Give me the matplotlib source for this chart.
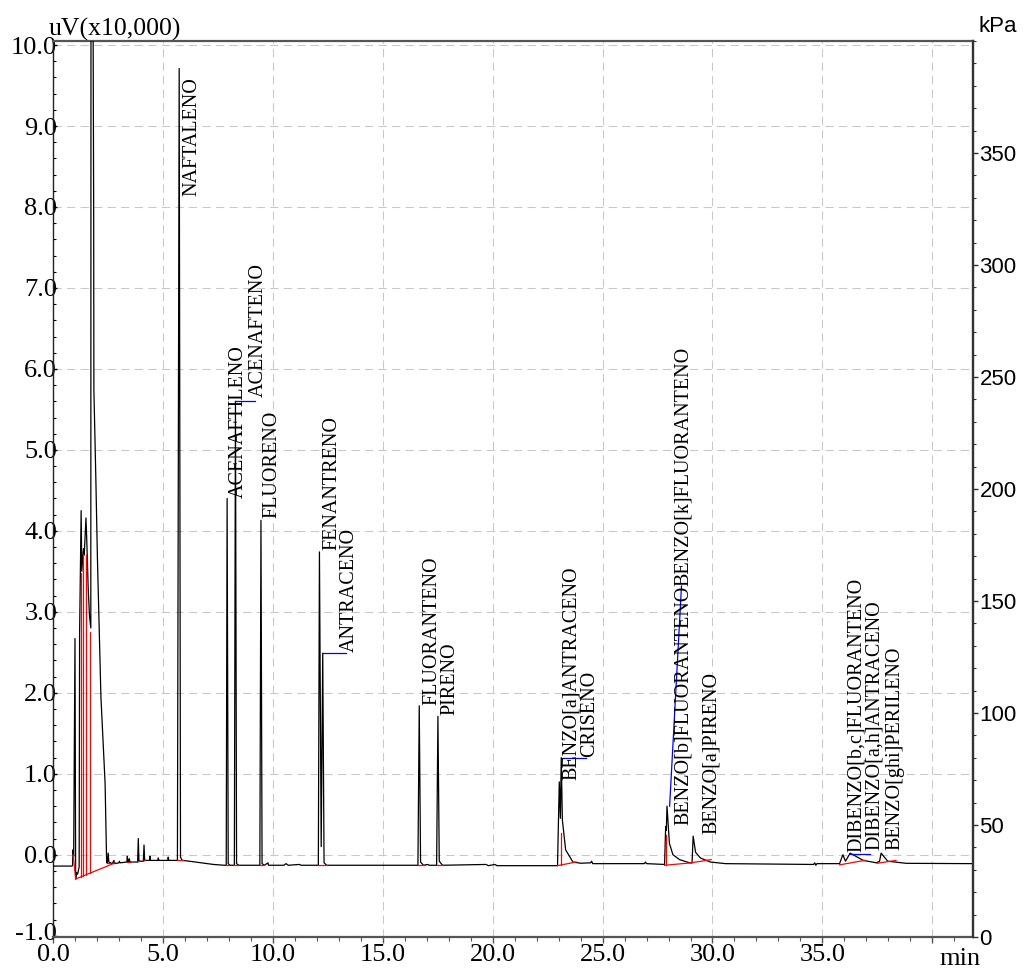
import matplotlib
matplotlib.use("Agg")
import matplotlib.pyplot as plt
from matplotlib.ticker import MultipleLocator
from matplotlib.transforms import ScaledTranslation

# chromatogram trace (min, uV x10,000)
trace_t = [0.00, 0.87, 0.89, 0.91, 0.94, 1.00, 1.03, 1.07, 1.12, 1.19, 1.21, 1.28, 1.31,
           1.36, 1.39, 1.42, 1.50, 1.54, 1.60, 1.66, 1.72, 1.73, 1.78, 1.85, 1.86, 1.95,
           2.02, 2.18, 2.37, 2.44,
           2.47, 2.51, 2.54, 2.70, 2.77, 2.80, 3.00, 3.02, 3.05, 3.36, 3.38, 3.41, 3.45,
           3.47, 3.50, 3.85, 3.88, 3.91, 4.11, 4.14, 4.17, 4.39, 4.41, 4.44, 4.77, 4.79,
           4.82, 5.22, 5.24, 5.27,
           5.66, 5.74, 5.80, 5.88, 6.20, 7.30, 7.80,
           7.88, 7.92, 7.97, 8.05, 8.25, 8.30, 8.35, 8.45,
           9.41, 9.46, 9.51, 9.62, 9.78, 9.80, 9.83,
           10.50, 10.60, 10.70, 11.20, 11.30, 11.40,
           12.07, 12.12, 12.20, 12.27, 12.33, 12.45,
           16.60, 16.66, 16.72, 16.85, 17.05, 17.10, 17.15,
           17.45, 17.51, 17.57, 17.72,
           19.70, 19.80, 20.10, 20.20,
           22.95, 23.03, 23.08, 23.12, 23.17, 23.32, 23.65, 24.00, 24.45, 24.50, 24.55,
           26.90, 26.95, 27.00,
           27.82, 27.87, 27.90, 27.93, 28.04, 28.20, 28.50, 28.96,
           29.07, 29.12, 29.23, 29.45, 29.90, 30.60,
           34.60, 34.65, 34.70, 34.75,
           35.78, 35.93, 36.05, 36.26, 36.86, 37.46, 37.60, 37.67, 37.97, 38.81, 41.85]
trace_s = [-0.14, -0.14, -0.13, 0.06, -0.02, 2.67, -0.30, -0.22, -0.24, -0.15, 2.74, 4.25, 3.50,
           3.70, 3.78, 3.70, 4.16, 3.85, 3.30, 2.95, 2.80, 13.0, 14.0, 8.00, 5.74, 4.63,
           3.67, 1.95, 0.88, -0.10,
           -0.10, 0.02, -0.09, -0.11, -0.07, -0.11, -0.10, -0.08, -0.10, -0.09, -0.02, -0.09, -0.09,
           -0.05, -0.09, -0.09, 0.20, -0.08, -0.08, 0.12, -0.07, -0.07, -0.02, -0.07, -0.07, -0.04,
           -0.07, -0.07, -0.03, -0.07,
           -0.07, 9.71, -0.03, -0.07, -0.08, -0.12, -0.13,
           -0.13, 4.40, -0.11, -0.13, -0.13, 5.60, -0.11, -0.13,
           -0.13, 4.13, -0.11, -0.13, -0.10, -0.13, -0.13,
           -0.13, -0.11, -0.13, -0.12, -0.13, -0.13,
           -0.13, 3.74, 0.10, 2.49, -0.10, -0.13,
           -0.13, 1.84, -0.09, -0.13, -0.12, -0.13, -0.13,
           -0.13, 1.71, -0.08, -0.13,
           -0.12, -0.135, -0.12, -0.135,
           -0.135, 0.90, 0.45, 1.20, 0.43, 0.06, -0.09, -0.105, -0.10, -0.08, -0.11,
           -0.11, -0.09, -0.11,
           -0.12, 0.35, 0.30, 0.60, 0.14, 0.00, -0.06, -0.10,
           -0.10, 0.23, 0.03, -0.04, -0.09, -0.11,
           -0.12, -0.10, -0.13, -0.11,
           -0.11, 0.00, -0.08, 0.02, -0.07, -0.10, -0.08, 0.02, -0.08, -0.106, -0.11]

# integration baselines / drop lines (red): t0, s0, t1, s1
red_segments = [(0.92, 0.00, 1.03, -0.30), (1.03, -0.30, 2.83, -0.10),
                (1.28, -0.27, 1.28, 3.48), (1.38, -0.26, 1.38, 3.72),
                (1.49, -0.25, 1.49, 3.70), (1.68, -0.23, 1.68, 2.75),
                (2.45, -0.10, 2.60, -0.10), (3.36, -0.09, 3.52, -0.09),
                (3.85, -0.09, 3.95, -0.08), (4.10, -0.08, 4.20, -0.07),
                (5.66, -0.07, 5.90, -0.07), (7.88, -0.13, 8.02, -0.13),
                (8.25, -0.13, 8.42, -0.13), (9.41, -0.13, 9.58, -0.13),
                (12.05, -0.13, 12.45, -0.13), (16.60, -0.13, 16.90, -0.13),
                (17.45, -0.13, 17.75, -0.13),
                (22.95, -0.135, 23.80, -0.09), (23.09, -0.13, 23.09, 0.27),
                (27.82, -0.13, 29.04, -0.10), (29.04, -0.10, 29.94, -0.06),
                (27.87, -0.13, 27.87, 0.24),
                (35.78, -0.125, 36.92, -0.07), (37.50, -0.105, 38.35, -0.07)]

# label leader lines (blue)
blue_segments = [(8.28, 5.61, 9.19, 5.61), (12.29, 2.49, 13.35, 2.49),
                 (23.15, 1.20, 24.26, 1.20), (28.05, 0.60, 28.59, 3.32),
                 (36.26, 0.01, 37.17, 0.01)]

peak_names = ["NAFTALENO", "ACENAFTILENO", "ACENAFTENO", "FLUORENO", "FENANTRENO",
              "ANTRACENO", "FLUORANTENO", "PIRENO", "BENZO[a]ANTRACENO", "CRISENO",
              "BENZO[b]FLUORANTENO", "BENZO[k]FLUORANTENO", "BENZO[a]PIRENO",
              "DIBENZO[b,c]FLUORANTENO", "DIBENZO[a,h]ANTRACENO", "BENZO[ghi]PERILENO"]
label_t = [6.32, 8.41, 9.32, 9.96, 12.68, 13.50, 17.23, 18.05, 23.60, 24.41,
           28.69, 28.69, 29.96, 36.53, 37.37, 38.28]
label_s = [8.14, 4.40, 5.65, 4.16, 3.76, 2.50, 1.85, 1.73, 0.92, 1.21,
           0.37, 3.32, 0.26, 0.03, 0.06, 0.06]

x_ticks = [0, 5, 10, 15, 20, 25, 30, 35]
y_ticks = [-1, 0, 1, 2, 3, 4, 5, 6, 7, 8, 9, 10]
kpa_ticks = [0, 50, 100, 150, 200, 250, 300, 350]

serif = "Liberation Serif"
sans = "Liberation Sans"

W, H = 1029, 968
fig = plt.figure(figsize=(W / 100, H / 100), dpi=100)
ax = fig.add_axes([53 / W, 1 - 937 / H, 920 / W, 896 / H])

ax.plot(trace_t, trace_s, color="black", lw=0.9, zorder=3)
for t0, s0, t1, s1 in red_segments:
    ax.plot([t0, t1], [s0, s1], color="#ff0000", lw=0.9, zorder=4)
for t0, s0, t1, s1 in blue_segments:
    ax.plot([t0, t1], [s0, s1], color="#0000ff", lw=0.9, zorder=4)

for name, t, s in zip(peak_names, label_t, label_s):
    ax.text(t, s, name, rotation=90, ha="center", va="bottom",
            family=serif, fontsize=14.5, zorder=5)

ax.set_xlim(0, 41.85)
ax.set_ylim(-1.016, 10.05)
ax.set_xticks([40] + x_ticks)
ax.set_xticklabels([""] + ["%.1f" % v for v in x_ticks])
ax.set_yticks(y_ticks)
ax.set_yticklabels(["%.1f" % v for v in y_ticks])
ax.xaxis.set_minor_locator(MultipleLocator(1))
ax.yaxis.set_minor_locator(MultipleLocator(0.2))
ax.grid(True, which="major", color="#c8c8c8", lw=0.75, dashes=(8, 5))
ax.set_axisbelow(True)

ax.tick_params(axis="x", which="major", direction="out", length=4.3, width=1,
               pad=0.5, labelsize=19, color="#555555")
ax.tick_params(axis="x", which="minor", direction="out", length=2.8, width=0.8,
               color="#555555")
ax.tick_params(axis="y", which="major", direction="in", length=3, width=1,
               pad=-3, labelsize=19)
ax.tick_params(axis="y", which="minor", direction="in", length=2, width=0.8)
for lab in ax.get_xticklabels() + ax.get_yticklabels():
    lab.set_family(serif)
# the lowest y label sits just above the x labels
low = ax.get_yticklabels()[0]
low.set_transform(low.get_transform() + ScaledTranslation(0, 3 / 72, fig.dpi_scale_trans))

for side in ["top", "bottom", "right"]:
    ax.spines[side].set_color("#555555")
    ax.spines[side].set_linewidth(1.6)
ax.spines["left"].set_color("#222222")
ax.spines["left"].set_linewidth(1.0)

ax2 = ax.twinx()
ax2.set_ylim(0, 400)
ax2.set_yticks(kpa_ticks)
ax2.yaxis.set_minor_locator(MultipleLocator(10))
ax2.tick_params(axis="y", which="major", direction="out", length=3.6, width=1,
                pad=1, labelsize=16, color="#333333")
ax2.tick_params(axis="y", which="minor", direction="out", length=2.2, width=0.8,
                color="#333333")
for lab in ax2.get_yticklabels():
    lab.set_family(sans)
for side in ["top", "bottom", "left"]:
    ax2.spines[side].set_visible(False)
ax2.spines["right"].set_color("#333333")
ax2.spines["right"].set_linewidth(1.6)

fig.text(49 / W, 1 - 29 / H, "uV(x10,000)", family=serif, fontsize=18.5,
         ha="left", va="center")
fig.text(979 / W, 1 - 27 / H, "kPa", family=sans, fontsize=16,
         ha="left", va="center")
fig.text(960 / W, 1 - 965 / H, "min", family=serif, fontsize=19,
         ha="center", va="baseline")

fig.savefig("out.png", dpi=100)
